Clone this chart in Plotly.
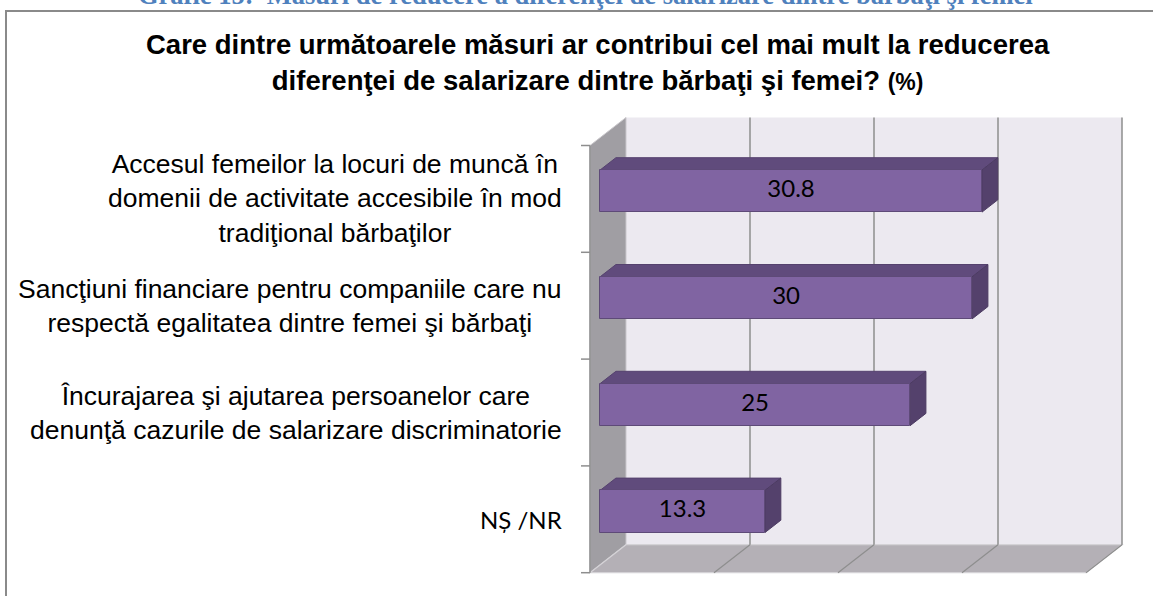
import plotly.graph_objects as go

# ---------------- data ----------------
categories = [
    "Accesul femeilor la locuri de muncă în<br>domenii de activitate accesibile în mod<br>tradiţional bărbaţilor",
    "Sancţiuni financiare pentru companiile care nu<br>respectă egalitatea dintre femei şi bărbaţi",
    "Încurajarea şi ajutarea persoanelor care<br>denunţă cazurile de salarizare discriminatorie",
    "NȘ /NR",
]
values = [30.8, 30, 25, 13.3]
value_labels = ["30.8", "30", "25", "13.3"]
grid_values = [0, 10, 20, 30, 40]

heading = "Grafic 15:  Măsuri de reducere a diferenţei de salarizare dintre bărbaţi şi femei"
title_main = ("Care dintre următoarele măsuri ar contribui cel mai mult la reducerea<br>"
              "diferenţei de salarizare dintre bărbaţi şi femei? <span style='font-size:23px'>(%)</span>")

# ---------------- geometry (pixels -> axis units) ----------------
W, H = 1153, 596
L, R, T, B = 560, 20, 100, 6
PW, PH = W - L - R, H - T - B
PX_X = 12.4          # px per value unit
X0_PX = 590          # px of value 0 at front plane
SLOT_PX = 106.8      # px per category slot
Y0_PX = 145.5        # px of the top of the front plane
xr = [(L - X0_PX) / PX_X, (W - R - X0_PX) / PX_X]
yr = [(H - B - Y0_PX) / SLOT_PX, (T - Y0_PX) / SLOT_PX]   # reversed
DX = 36 / PX_X       # depth vector in axis units
DY = -28 / SLOT_PX
N = len(categories)
XMAX = grid_values[-1]
D0, D1 = 0.28, 0.72  # bar depth range
HB = 0.197           # half bar thickness (slot units)

def poly(pts):
    return "M " + " L ".join(f"{x:.4f},{y:.4f}" for x, y in pts) + " Z"

shapes = []
# back wall
shapes.append(dict(type="path", xref="x", yref="y", layer="below",
                   path=poly([(DX, DY), (XMAX + DX, DY), (XMAX + DX, N + DY), (DX, N + DY)]),
                   fillcolor="#ECE9F0", line=dict(width=0)))
# left wall
shapes.append(dict(type="path", xref="x", yref="y", layer="below",
                   path=poly([(0, 0), (DX, DY), (DX, N + DY), (0, N)]),
                   fillcolor="#A09EA3", line=dict(color="#C9C7CB", width=1)))
# floor
shapes.append(dict(type="path", xref="x", yref="y", layer="below",
                   path=poly([(0, N), (XMAX, N), (XMAX + DX, N + DY), (DX, N + DY)]),
                   fillcolor="#B4B0B6", line=dict(color="#D4D2D6", width=1.2)))
# gridlines on back wall + floor
for g in grid_values[1:]:
    shapes.append(dict(type="line", xref="x", yref="y", layer="below",
                       x0=g + DX, y0=DY, x1=g + DX, y1=N + DY,
                       line=dict(color="#8E8E8E", width=1.5)))
    shapes.append(dict(type="line", xref="x", yref="y", layer="below",
                       x0=g, y0=N, x1=g + DX, y1=N + DY,
                       line=dict(color="#8E8E8E", width=1.2)))
# vertical axis line and ticks
shapes.append(dict(type="line", xref="x", yref="y", layer="below",
                   x0=0, y0=0, x1=0, y1=N, line=dict(color="#8E8E8E", width=1.5)))
for k in range(N + 1):
    shapes.append(dict(type="line", xref="x", yref="y", layer="below",
                       x0=-9 / PX_X, y0=k, x1=0, y1=k, line=dict(color="#8E8E8E", width=1.5)))

# bar top and side faces
bar_y = []
for i, v in enumerate(values):
    yc = i + 0.5
    yt0, yt1 = yc - HB + D0 * DY, yc - HB + D1 * DY
    yb0, yb1 = yc + HB + D0 * DY, yc + HB + D1 * DY
    xs0, xs1 = D0 * DX, D1 * DX
    shapes.append(dict(type="path", xref="x", yref="y", layer="below",
                       path=poly([(xs0, yt0), (v + xs0, yt0), (v + xs1, yt1), (xs1, yt1)]),
                       fillcolor="#604B7C", line=dict(color="#55426E", width=1)))
    shapes.append(dict(type="path", xref="x", yref="y", layer="below",
                       path=poly([(v + xs0, yt0), (v + xs1, yt1), (v + xs1, yb1), (v + xs0, yb0)]),
                       fillcolor="#54416C", line=dict(color="#4C3B62", width=1)))
    bar_y.append(yc + D0 * DY)

# border of the chart box
shapes.append(dict(type="rect", xref="paper", yref="paper",
                   x0=(6 - L) / PW, x1=(W + 10 - L) / PW,
                   y0=-(B + 10) / PH, y1=1 + (T - 11) / PH,
                   line=dict(color="#8A8A8A", width=2), fillcolor="rgba(0,0,0,0)"))

fig = go.Figure()
fig.add_trace(go.Bar(
    x=values, y=bar_y, base=D0 * DX, orientation="h", width=2 * HB,
    marker=dict(color="#8064A2", line=dict(color="#5E4A78", width=1)),
    hoverinfo="skip", showlegend=False))
fig.add_trace(go.Scatter(
    x=[D0 * DX + v / 2 for v in values], y=bar_y, mode="text", text=value_labels,
    textfont=dict(family="Lato", size=24, color="#000000"),
    hoverinfo="skip", showlegend=False))

annotations = []
for i, c in enumerate(categories):
    is_ns = i == N - 1
    annotations.append(dict(
        xref="x", yref="y", x=0, y=i + 0.5, xanchor="right", yanchor="middle",
        xshift=-26, text=c, showarrow=False, align="center",
        font=dict(family="Lato" if is_ns else "Liberation Sans, Arial",
                  size=24 if is_ns else 26.5, color="#000000")))
annotations.append(dict(
    xref="paper", yref="paper", x=(598 - L) / PW, y=1 + (T - 63) / PH,
    xanchor="center", yanchor="middle", showarrow=False, align="center",
    text="<b>" + title_main + "</b>",
    font=dict(family="Liberation Sans, Arial", size=27.5, color="#000000")))
annotations.append(dict(
    xref="paper", yref="paper", x=(585 - L) / PW, y=1 + (T - 12) / PH,
    xanchor="center", yanchor="bottom", showarrow=False,
    text="<b>" + heading + "</b>",
    font=dict(family="Liberation Serif, Times New Roman", size=26.5, color="#4F81BD")))

fig.update_layout(
    width=W, height=H,
    margin=dict(l=L, r=R, t=T, b=B),
    paper_bgcolor="#FFFFFF", plot_bgcolor="rgba(0,0,0,0)",
    xaxis=dict(range=xr, visible=False, fixedrange=True),
    yaxis=dict(range=yr, visible=False, fixedrange=True),
    shapes=shapes, annotations=annotations, bargap=0,
)
fig.write_html("out.html", config={"displayModeBar": False},
               post_script="document.body.style.margin='0';document.body.style.overflow='hidden';")
